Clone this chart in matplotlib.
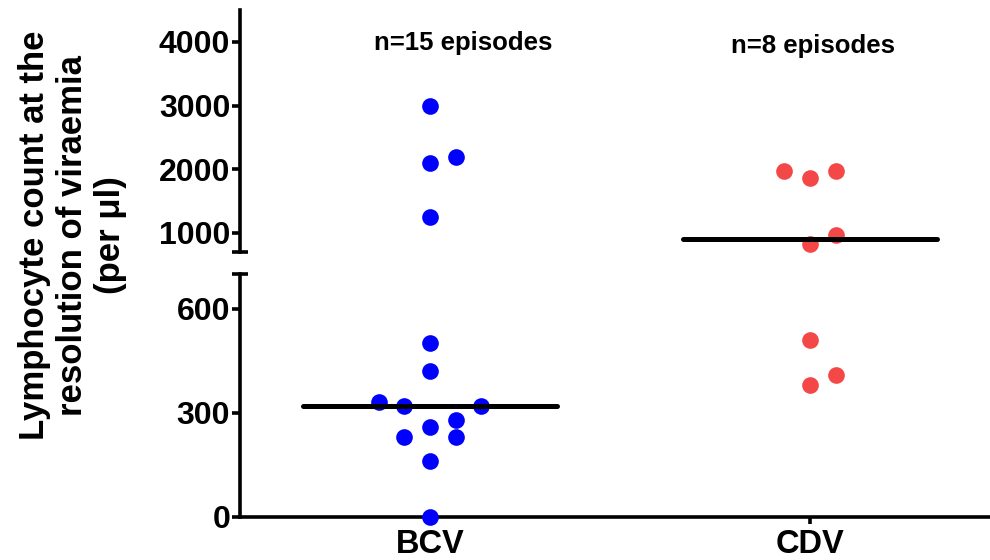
import matplotlib
matplotlib.use("Agg")
import matplotlib.pyplot as plt

plt.rcParams['font.family'] = ['Liberation Sans', 'DejaVu Sans']
plt.rcParams['font.weight'] = 'bold'

# data (lymphocytes per ul)
groups = ['BCV', 'CDV']
bcv = [3000, 2100, 2200, 1250, 500, 420, 330, 320, 320, 280, 260, 230, 230, 160, 0]
cdv = [1980, 1870, 1980, 970, 830, 510, 410, 380]
counts = ['n=15 episodes', 'n=8 episodes']

# swarm column of each point (left/right of the category centre)
bcv_cols = [0, 0, 1, 0, 0, 0, -2, -1, 2, 1, 0, -1, 1, 0, 0]
cdv_cols = [-1, 0, 1, 1, 0, 0, 1, 0]

BREAK = 700
step = 0.0676
blue = '#0000FF'
red = '#F44848'

fig = plt.figure(figsize=(9.9, 5.6), dpi=100)
ax_lo = fig.add_axes([0.2424, 0.0768, 0.7576, 0.434])
ax_hi = fig.add_axes([0.2424, 0.55, 0.7576, 0.432])

for ax in (ax_lo, ax_hi):
    ax.set_xlim(-0.5, 1.474)
    for s in ['top', 'right']:
        ax.spines[s].set_visible(False)
    ax.spines['left'].set_linewidth(2.6)
    ax.spines['bottom'].set_linewidth(2.6)
    ax.tick_params(axis='y', length=6, width=2.6, pad=1, labelsize=23)
    ax.patch.set_alpha(0)

ax_lo.set_ylim(0, BREAK)
ax_hi.set_ylim(BREAK, 4500)
ax_lo.set_yticks([0, 300, 600])
ax_hi.set_yticks([1000, 2000, 3000, 4000])
ax_hi.spines['bottom'].set_visible(False)
ax_hi.set_xticks([])
ax_lo.set_xticks([0, 1])
ax_lo.set_xticklabels(groups)
ax_lo.tick_params(axis='x', length=5, width=2.6, pad=4, labelsize=23.5)

# scatter every point on the axis that holds its value
for i, (vals, cols, c) in enumerate([(bcv, bcv_cols, blue), (cdv, cdv_cols, red)]):
    for v, k in zip(vals, cols):
        ax = ax_lo if v < BREAK else ax_hi
        ax.plot(i + k * step, v, 'o', ms=12, color=c, mec='none',
                clip_on=False, zorder=3)
    srt = sorted(vals)
    n = len(srt)
    med = srt[n // 2] if n % 2 else (srt[n // 2 - 1] + srt[n // 2]) / 2
    ax = ax_lo if med < BREAK else ax_hi
    ax.plot([i - 0.334, i + 0.334], [med, med], color='black', lw=3.6,
            solid_capstyle='round', zorder=4)

# caps at the axis break
ax_lo.plot([0], [1], marker='_', ms=11, mew=2.6, color='black',
           transform=ax_lo.transAxes, clip_on=False)
ax_hi.plot([0], [0], marker='_', ms=11, mew=2.6, color='black',
           transform=ax_hi.transAxes, clip_on=False)

ax_hi.text(0.087, 3980, counts[0], ha='center', va='center', fontsize=18.5)
ax_hi.text(1.008, 3930, counts[1], ha='center', va='center', fontsize=18.5)

fig.text(0.073, 0.58, 'Lymphocyte count at the\nresolution of viraemia\n(per \u03bcl)',
         rotation=90, ha='center', va='center', multialignment='center',
         fontsize=25, linespacing=1.2)

fig.savefig('out.png', dpi=100)
